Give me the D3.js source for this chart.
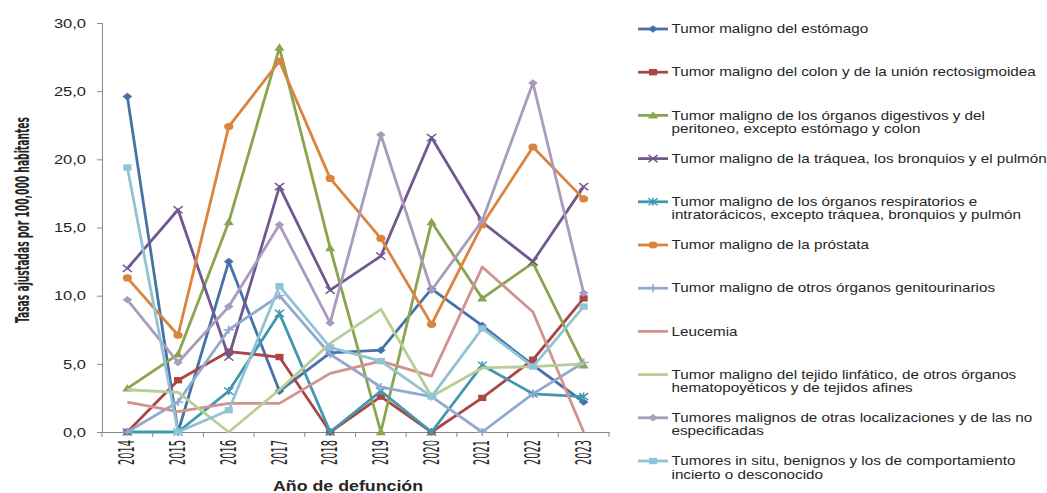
<!DOCTYPE html>
<html><head><meta charset="utf-8">
<script src="https://cdn.jsdelivr.net/npm/d3@7"></script>
<style>
html,body{margin:0;padding:0;background:#fff;}
svg{display:block;}
</style></head>
<body>
<svg id="chart" width="1047" height="493"></svg>
<script>
// ---- DATA ----
const years = ["2014","2015","2016","2017","2018","2019","2020","2021","2022","2023"];
const yTicks = [0, 5, 10, 15, 20, 25, 30];
const seriesNames = [
  ["Tumor maligno del estómago"],
  ["Tumor maligno del colon y de la unión rectosigmoidea"],
  ["Tumor maligno de los órganos digestivos y del", "peritoneo, excepto estómago y colon"],
  ["Tumor maligno de la tráquea, los bronquios y el pulmón"],
  ["Tumor maligno de los órganos respiratorios e", "intratorácicos, excepto tráquea, bronquios y pulmón"],
  ["Tumor maligno de la próstata"],
  ["Tumor maligno de otros órganos genitourinarios"],
  ["Leucemia"],
  ["Tumor maligno del tejido linfático, de otros órganos", "hematopoyéticos y de tejidos afines"],
  ["Tumores malignos de otras localizaciones y de las no", "especificadas"],
  ["Tumores in situ, benignos y los de comportamiento", "incierto o desconocido"]
];
const estomago        = [24.6, 0.0, 12.5, 3.0, 5.8, 6.0, 10.5, 7.8, 4.9, 2.2];
const colon           = [0.0, 3.8, 5.9, 5.5, 0.0, 2.6, 0.0, 2.5, 5.3, 9.8];
const digestivos      = [3.2, 5.7, 15.4, 28.2, 13.5, 0.0, 15.4, 9.8, 12.4, 4.9];
const traquea         = [12.0, 16.3, 5.5, 18.0, 10.4, 12.9, 21.6, 15.4, 12.5, 18.0];
const respiratorios   = [0.0, 0.0, 3.0, 8.7, 0.0, 3.0, 0.0, 4.9, 2.8, 2.6];
const prostata        = [11.3, 7.1, 22.4, 27.2, 18.6, 14.2, 7.9, 15.2, 20.9, 17.1];
const genitourinarios = [0.0, 2.2, 7.5, 10.0, 5.7, 3.3, 2.6, 0.0, 2.8, 5.1];
const leucemia        = [2.2, 1.5, 2.1, 2.1, 4.3, 5.2, 4.1, 12.1, 8.8, 0.0];
const linfatico       = [3.1, 2.9, 0.0, 3.1, 6.5, 9.0, 2.6, 4.7, 4.8, 5.0];
const otras           = [9.7, 5.1, 9.2, 15.2, 8.0, 21.8, 10.4, 15.5, 25.6, 10.2];
const inSitu          = [19.4, 0.0, 1.6, 10.7, 6.2, 5.2, 2.6, 7.6, 4.8, 9.2];

const seriesValues = [estomago, colon, digestivos, traquea, respiratorios, prostata,
                      genitourinarios, leucemia, linfatico, otras, inSitu];
const colors = ["#4572A7","#AA4643","#89A54E","#71588F","#4198AF","#DB843D",
                "#93A9CF","#D19392","#B9CD96","#A99BBD","#91C3D5"];
const markers = ["diamond","square","triangle","x","asterisk","circle","plus","none","none","diamond","square"];

// ---- LAYOUT ----
const SX = 1.27; // horizontal stretch of the original
const svg = d3.select("#chart");
const plotLeft = 102, plotRight = 609, plotTop = 23, plotBottom = 432;
const x = d3.scaleBand().domain(years).range([plotLeft, plotRight]);
const y = d3.scaleLinear().domain([0, 30]).range([plotBottom, plotTop]);
const axisColor = "#868686";
const txtColor = "#262626";
const sansFont = "'Liberation Sans', Arial, sans-serif";
const narrowFont = "'Liberation Sans Narrow', 'Arial Narrow', 'DejaVu Sans Condensed', sans-serif";

// Y axis
const yAxis = svg.append("g").attr("transform", `translate(${plotLeft},0)`)
  .call(d3.axisLeft(y).tickValues(yTicks).tickSize(5).tickPadding(11)
        .tickFormat(d => d3.format(".1f")(d).replace(".", ",")));
yAxis.select(".domain").attr("stroke", axisColor);
yAxis.selectAll(".tick line").attr("stroke", axisColor);
yAxis.selectAll(".tick text").each(function(){
  const t = d3.select(this);
  const tx = +t.attr("x");
  t.attr("x", 0).attr("transform", `translate(${tx},0) scale(${SX},1)`)
   .attr("font-family", sansFont).attr("font-size", 13).attr("fill", txtColor);
});

// X axis
const xAxis = svg.append("g").attr("transform", `translate(0,${plotBottom})`)
  .call(d3.axisBottom(x).tickSize(0).tickSizeOuter(0).tickPadding(0));
xAxis.select(".domain").attr("stroke", axisColor);
xAxis.selectAll(".tick text").each(function(){
  d3.select(this).attr("y", 0).attr("dy", "0.35em")
    .attr("text-anchor", "end")
    .attr("transform", `translate(0,8) scale(${SX},1) rotate(-90)`)
    .attr("textLength", 25).attr("lengthAdjust", "spacingAndGlyphs")
    .attr("font-family", narrowFont).attr("font-size", 16).attr("fill", txtColor);
});
// boundary tick marks
const bounds = years.map(d => x(d)).concat([x.range()[1]]);
svg.append("g").selectAll("line").data(bounds).join("line")
  .attr("x1", d => d).attr("x2", d => d)
  .attr("y1", plotBottom).attr("y2", plotBottom + 5)
  .attr("stroke", axisColor);

// Axis titles
svg.append("text")
  .attr("transform", `translate(348,491) scale(${SX},1)`)
  .attr("text-anchor", "middle")
  .attr("font-family", sansFont).attr("font-weight", "bold").attr("font-size", 14)
  .attr("fill", txtColor).text("Año de defunción");
svg.append("text")
  .attr("transform", `translate(22,220) scale(${SX},1) rotate(-90)`)
  .attr("text-anchor", "middle").attr("dy", "0.35em")
  .attr("textLength", 206).attr("lengthAdjust", "spacingAndGlyphs")
  .attr("font-family", narrowFont).attr("font-weight", "bold").attr("font-size", 15)
  .attr("fill", txtColor).text("Tasas ajustadas por 100,000 habitantes");

// Marker shapes
function markerPath(type) {
  switch (type) {
    case "diamond": return "M0,-3.8L3.8,0L0,3.8L-3.8,0Z";
    case "square": return "M-3.2,-3.2H3.2V3.2H-3.2Z";
    case "triangle": return "M0,-4.2L4,3.2L-4,3.2Z";
    case "circle": return "M-3.6,0A3.6,3.6 0 1,0 3.6,0A3.6,3.6 0 1,0 -3.6,0Z";
    case "x": return "M-3.6,-3.6L3.6,3.6M-3.6,3.6L3.6,-3.6";
    case "asterisk": return "M-3.6,-3.6L3.6,3.6M-3.6,3.6L3.6,-3.6M0,-4L0,4";
    case "plus": return "M-4,0L4,0M0,-4L0,4";
    default: return null;
  }
}
const strokeMarkers = new Set(["x","asterisk","plus"]);
function drawMarker(g, type, color, cx, cy) {
  const p = markerPath(type);
  if (!p) return;
  const m = g.append("path").attr("d", p)
    .attr("transform", `translate(${cx},${cy}) scale(${SX},1)`);
  if (strokeMarkers.has(type)) m.attr("fill", "none").attr("stroke", color).attr("stroke-width", 1.3);
  else m.attr("fill", color).attr("stroke", "none");
}

// Lines
const line = d3.line().x((d, i) => x(years[i]) + x.bandwidth() / 2).y(d => y(d));
seriesValues.forEach((vals, s) => {
  const g = svg.append("g");
  g.append("path").attr("d", line(vals)).attr("fill", "none")
    .attr("stroke", colors[s]).attr("stroke-width", 2.8).attr("stroke-linejoin", "round");
  vals.forEach((v, i) => drawMarker(g, markers[s], colors[s], x(years[i]) + x.bandwidth() / 2, y(v)));
});

// Legend
const lg = svg.append("g");
seriesNames.forEach((lines, s) => {
  const yy = 29 + s * 43.2;
  lg.append("line").attr("x1", 638).attr("x2", 668).attr("y1", yy).attr("y2", yy)
    .attr("stroke", colors[s]).attr("stroke-width", 2.8);
  drawMarker(lg, markers[s], colors[s], 653, yy);
  lines.forEach((ln, k) => {
    lg.append("text")
      .attr("transform", `translate(671.5,${yy + k * 13.3}) scale(${SX},1)`)
      .attr("dy", "0.35em")
      .attr("font-family", sansFont).attr("font-size", 12).attr("fill", txtColor)
      .text(ln);
  });
});
</script>
</body></html>
